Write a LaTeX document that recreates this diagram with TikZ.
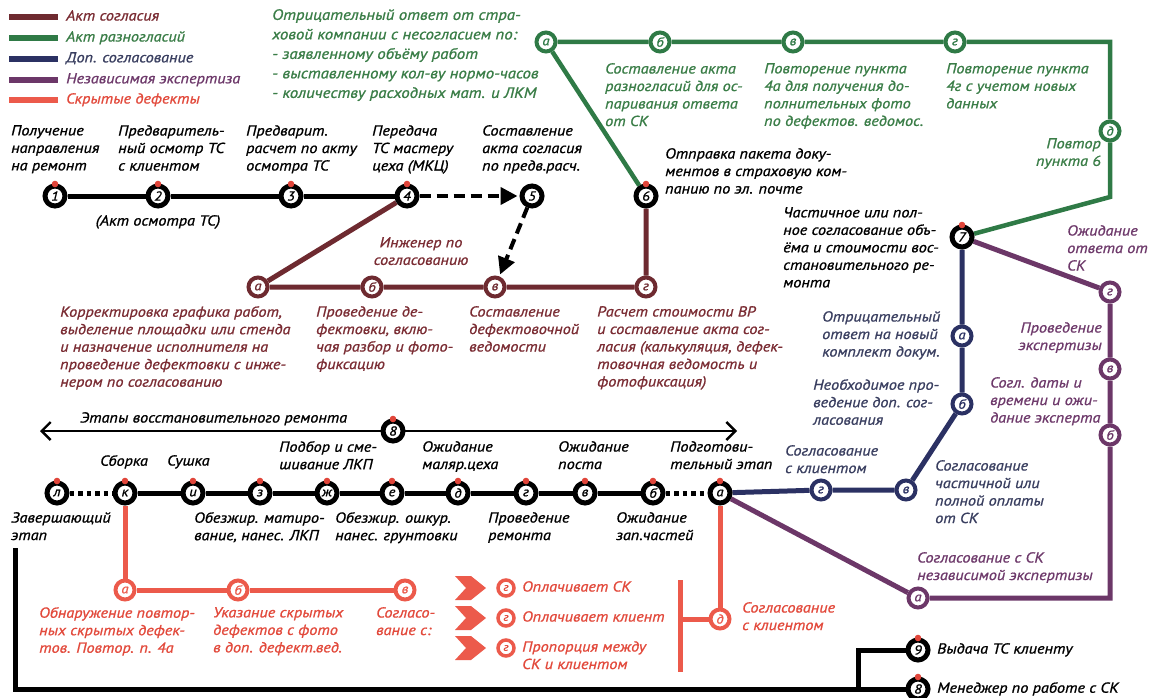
\documentclass[tikz,border=0pt]{standalone}
\usepackage{fontspec}
\setmainfont{PT Sans}[FakeStretch=1.12,FakeBold=1]
\usetikzlibrary{arrows.meta,backgrounds}
\definecolor{cbrown}{HTML}{6E2A30}
\definecolor{cgreen}{HTML}{2F7A46}
\definecolor{cnavy}{HTML}{2B3163}
\definecolor{cpurp}{HTML}{6C3768}
\definecolor{cred}{HTML}{EC5A4B}
\definecolor{tred}{HTML}{E24A3C}
\definecolor{tbrown}{HTML}{7A2C33}
\definecolor{tgreen}{HTML}{3A7D47}
\definecolor{tnavy}{HTML}{3A3F60}
\definecolor{tpurp}{HTML}{6E3A6B}
\definecolor{dotred}{HTML}{E0453A}
\newcommand\dfont{\fontsize{14.5}{17.5}\selectfont\itshape}
\newcommand\bnode[4]{\node[bn] (#1) at (#2,#3) {#4}; \fill[dotred] (#2,#3-12) circle (3.3pt);}
\begin{document}
\begin{tikzpicture}[x=1pt,y=-1pt,
 bn/.style={circle,draw=black,line width=5pt,fill=white,minimum size=20pt,inner sep=0pt,font=\fontsize{13}{13}\selectfont\itshape},
 cn/.style={circle,draw=#1,text=#1,line width=4pt,fill=white,minimum size=19pt,inner sep=0pt,font=\fontsize{13}{13}\selectfont\itshape},
 sn/.style={circle,draw=cred,text=tred,line width=3.5pt,fill=white,minimum size=16pt,inner sep=0pt,font=\fontsize{11}{11}\selectfont\itshape},
 tx/.style={anchor=north west,inner sep=0pt,align=left,font=\dfont},
 txr/.style={anchor=north east,inner sep=0pt,align=right,font=\dfont},
 txc/.style={anchor=north,inner sep=0pt,align=center,font=\dfont},
 bl/.style={line width=5pt,black},
 dots/.style={line width=5pt,black,dash pattern=on 4.5pt off 4pt},
 dsh/.style={line width=4pt,black,dash pattern=on 11pt off 6pt,-{Triangle[length=17pt,width=17pt]},shorten >=2pt},
 brl/.style={line width=5pt,cbrown},
 grl/.style={line width=4.5pt,cgreen},
 nvl/.style={line width=5pt,cnavy},
 ppl/.style={line width=5pt,cpurp},
 rdl/.style={line width=5pt,cred},
 leg/.style={line width=5.5pt},
]
\useasboundingbox (0,0) rectangle (1157,698);

% ---------- legend ----------
\coordinate (lg1a) at (9,17);  \coordinate (lg1b) at (58,17);
\coordinate (lg2a) at (9,38);  \coordinate (lg2b) at (58,38);
\coordinate (lg3a) at (9,59);  \coordinate (lg3b) at (58,59);
\coordinate (lg4a) at (9,80);  \coordinate (lg4b) at (58,80);
\coordinate (lg5a) at (9,100); \coordinate (lg5b) at (58,100);
\draw[leg,cbrown] (lg1a) -- (lg1b);
\draw[leg,cgreen] (lg2a) -- (lg2b);
\draw[leg,cnavy] (lg3a) -- (lg3b);
\draw[leg,cpurp] (lg4a) -- (lg4b);
\draw[leg,cred] (lg5a) -- (lg5b);
\node[tx,text=tbrown] (lt1) at (66,10) {Акт согласия};
\node[tx,text=tgreen] (lt2) at (66,31) {Акт разногласий};
\node[tx,text=tnavy] (lt3) at (66,52) {Доп. согласование};
\node[tx,text=tpurp] (lt4) at (66,73) {Независимая экспертиза};
\node[tx,text=tred] (lt5) at (66,93) {Скрытые дефекты};

\node[tx,text=tgreen,font=\fontsize{15}{19.5}\selectfont\itshape] (gpar) at (272,9) {Отрицательный ответ от стра-\\ховой компании с несогласием по:\\- заявленному объёму работ\\- выставленному кол-ву нормо-часов\\- количеству расходных мат. и ЛКМ};

% ---------- main line 1..6 ----------
\bnode{n1}{55}{196}{1}
\bnode{n2}{158}{196}{2}
\bnode{n3}{291}{196}{3}
\bnode{n4}{407}{196}{4}
\node[bn] (n5) at (532,196) {5};
\bnode{n6}{646}{196}{6}

\node[tx] (t1) at (11,125) {Получение\\направления\\на ремонт};
\node[tx] (t2) at (118,125) {Предваритель-\\ный осмотр ТС\\с клиентом};
\node[tx] (t3) at (246,125) {Предварит.\\расчет по акту\\осмотра ТС};
\node[tx] (t4) at (372,125) {Передача\\ТС мастеру\\цеха (МКЦ)};
\node[tx] (t5) at (482,125) {Составление\\акта согласия\\по предв.расч.};
\node[txc] (t2b) at (158,215) {(Акт осмотра ТС)};
\node[tx] (t6) at (665,148) {Отправка пакета доку-\\ментов в страховую ком-\\панию по эл. почте};

% ---------- brown ----------
\node[cn=cbrown] (ba) at (258,287) {а};
\node[cn=cbrown] (bb) at (372,287) {б};
\node[cn=cbrown] (bv) at (495,287) {в};
\node[cn=cbrown] (bg) at (646,287) {г};
\node[txc,text=tbrown] (beng) at (421,237) {Инженер по\\согласованию};
\node[tx,text=tbrown] (bt1) at (60,306) {Корректировка графика работ,\\выделение площадки или стенда\\и назначение исполнителя на\\проведение дефектовки с инже-\\нером по согласованию};
\node[tx,text=tbrown] (bt2) at (316,306) {Проведение де-\\фектовки, вклю-\\чая разбор и фото-\\фиксацию};
\node[tx,text=tbrown] (bt3) at (469,306) {Составление\\дефектовочной\\ведомости};
\node[tx,text=tbrown] (bt4) at (597,306) {Расчет стоимости ВР\\и составление акта сог-\\ласия (калькуляция, дефек-\\товочная ведомость и\\фотофиксация)};

% ---------- green ----------
\node[cn=cgreen] (ga) at (546,42) {а};
\node[cn=cgreen] (gb) at (660,42) {б};
\node[cn=cgreen] (gv) at (793,42) {в};
\node[cn=cgreen] (gg) at (955,42) {г};
\coordinate (gc1) at (1110,42);
\node[cn=cgreen] (gd) at (1110,131) {д};
\coordinate (gc2) at (1110,197);
\node[tx,text=tgreen] (gt1) at (605,63) {Составление акта\\разногласий для ос-\\паривания ответа\\от СК};
\node[tx,text=tgreen] (gt2) at (764,63) {Повторение пункта\\4а для получения до-\\полнительных фото\\по дефектов. ведомос.};
\node[tx,text=tgreen] (gt3) at (946,63) {Повторение пункта\\4г с учетом новых\\данных};
\node[txr,text=tgreen] (gt4) at (1101,138) {Повтор\\пункта 6};

% ---------- node 7, navy, purple ----------
\bnode{n7}{962}{237}{7}
\node[tx] (t7) at (783,207) {Частичное или пол-\\ное согласование объ-\\ёма и стоимости вос-\\становительного ре-\\монта};

\node[cn=cnavy] (na) at (962,336) {а};
\node[cn=cnavy] (nb) at (962,404) {б};
\node[cn=cnavy] (nv) at (906,490) {в};
\node[cn=cnavy] (ng) at (821,490) {г};
\node[tx,text=tnavy] (nt1) at (822,311) {Отрицательный\\ответ на новый\\комплект докум.};
\node[tx,text=tnavy] (nt2) at (813,379) {Необходимое про-\\ведение доп. сог-\\ласования};
\node[tx,text=tnavy] (nt3) at (785,445) {Согласование\\с клиентом};
\node[tx,text=tnavy] (nt4) at (935,460) {Согласование\\частичной или\\полной оплаты\\от СК};

\node[cn=cpurp] (pg) at (1110,292) {г};
\node[cn=cpurp] (pv) at (1110,369) {в};
\node[cn=cpurp] (pb) at (1110,435) {б};
\coordinate (pc) at (1110,598);
\node[cn=cpurp] (pa) at (918,598) {а};
\node[tx,text=tpurp] (pt1) at (1067,225) {Ожидание\\ответа от\\СК};
\node[txr,text=tpurp] (pt2) at (1102,322) {Проведение\\экспертизы};
\node[tx,text=tpurp] (pt3) at (990,377) {Согл. даты и\\времени и ожи-\\дание эксперта};
\node[tx,text=tpurp] (pt4) at (917,552) {Согласование с СК\\независимой экспертизы};

% ---------- stage 8 ----------
\coordinate (arL) at (40,431);
\coordinate (arR) at (737,431);
\bnode{n8}{393}{431}{8}
\node[tx] (t8) at (80,412) {Этапы восстановительного ремонта};

\bnode{rl}{57}{493}{л}
\bnode{rk}{125}{493}{к}
\bnode{ri}{193}{493}{и}
\bnode{rz}{260}{493}{з}
\bnode{rzh}{327}{493}{ж}
\bnode{re}{392}{493}{е}
\bnode{rd}{458}{493}{д}
\bnode{rg}{526}{493}{г}
\bnode{rv}{585}{493}{в}
\bnode{rb}{653}{493}{б}
\bnode{ra}{720}{493}{а}

\node[tx] (s1) at (100,455) {Сборка};
\node[tx] (s2) at (167,455) {Сушка};
\node[tx] (s3) at (279,441) {Подбор и сме-\\шивание ЛКП};
\node[tx] (s4) at (422,441) {Ожидание\\маляр.цеха};
\node[tx] (s5) at (558,441) {Ожидание\\поста};
\node[tx] (s6) at (670,441) {Подготови-\\тельный этап};
\node[tx] (u1) at (11,512) {Завершающий\\этап};
\node[tx] (u2) at (194,512) {Обезжир. матиро-\\вание, нанес. ЛКП};
\node[tx] (u3) at (335,512) {Обезжир. ошкур.\\нанес. грунтовки};
\node[tx] (u4) at (488,512) {Проведение\\ремонта};
\node[tx] (u5) at (616,512) {Ожидание\\зап.частей};

% ---------- red ----------
\node[cn=cred] (xa) at (125,590) {а};
\node[cn=cred] (xb) at (238,590) {б};
\node[cn=cred] (xv) at (405,590) {в};
\node[cn=cred] (xd) at (720,619) {д};
\coordinate (bar1) at (680,580);
\coordinate (bar2) at (680,672);
\coordinate (barm) at (680,619);
\node[tx,text=tred] (xt1) at (39,607) {Обнаружение повтор-\\ных скрытых дефек-\\тов. Повтор. п. 4а};
\node[tx,text=tred] (xt2) at (213,607) {Указание скрытых\\дефектов с фото\\в доп. дефект.вед.};
\node[tx,text=tred] (xt3) at (376,607) {Согласо-\\вание с:};
\node[tx,text=tred] (xt4) at (742,602) {Согласование\\с клиентом};
\foreach \cy in {588,618,648}{
  \fill[cred] (455,\cy-12) -- (471,\cy-12) -- (486,\cy) -- (471,\cy+12) -- (455,\cy+12) -- (466,\cy) -- cycle;
}
\node[sn] (o1) at (506,588) {г};
\node[sn] (o2) at (506,618) {г};
\node[sn] (o3) at (506,648) {г};
\node[tx,text=tred] (ot1) at (522,581) {Оплачивает СК};
\node[tx,text=tred] (ot2) at (522,611) {Оплачивает клиент};
\node[tx,text=tred] (ot3) at (522,641) {Пропорция между\\СК и клиентом};

% ---------- bottom ----------
\bnode{m9}{918}{650}{9}
\bnode{m8}{918}{689}{8}
\coordinate (e0) at (15,548);
\coordinate (e1) at (15,689);
\coordinate (e2) at (858,689);
\coordinate (e3) at (858,650);
\node[tx] (mt9) at (937,643) {Выдача ТС клиенту};
\node[tx] (mt8) at (937,682) {Менеджер по работе с СК};

% ---------- connectors ----------
\begin{pgfonlayer}{background}
\draw[bl] (n1) -- (n2) -- (n3) -- (n4);
\draw[dsh] (n4) -- (n5);
\draw[dsh] (n5) -- (bv);
\draw[brl] (n4) -- (ba) -- (bb) -- (bv) -- (bg) -- (n6);
\draw[grl] (n6) -- (ga) -- (gb) -- (gv) -- (gg) -- (gc1) -- (gd) -- (gc2) -- (n7);
\draw[nvl] (n7) -- (na) -- (nb) -- (nv) -- (ng) -- (ra);
\draw[ppl] (n7) -- (pg) -- (pv) -- (pb) -- (pc) -- (pa) -- (ra);
\draw[line width=2.4pt,{Straight Barb[length=9pt,width=18pt]}-{Straight Barb[length=9pt,width=18pt]}] (arL) -- (arR);
\draw[dots] (rl) -- (rk);
\draw[bl] (rk) -- (ri) -- (rz) -- (rzh) -- (re) -- (rd) -- (rg) -- (rv) -- (rb);
\draw[dots] (rb) -- (ra);
\draw[rdl] (rk) -- (xa) -- (xb) -- (xv);
\draw[rdl] (ra) -- (xd);
\draw[rdl] (xd) -- (barm);
\draw[rdl] (bar1) -- (bar2);
\draw[bl] (e0) -- (e1) -- (m8);
\draw[bl] (e2) -- (e3) -- (m9);
\end{pgfonlayer}
\end{tikzpicture}
\end{document}
